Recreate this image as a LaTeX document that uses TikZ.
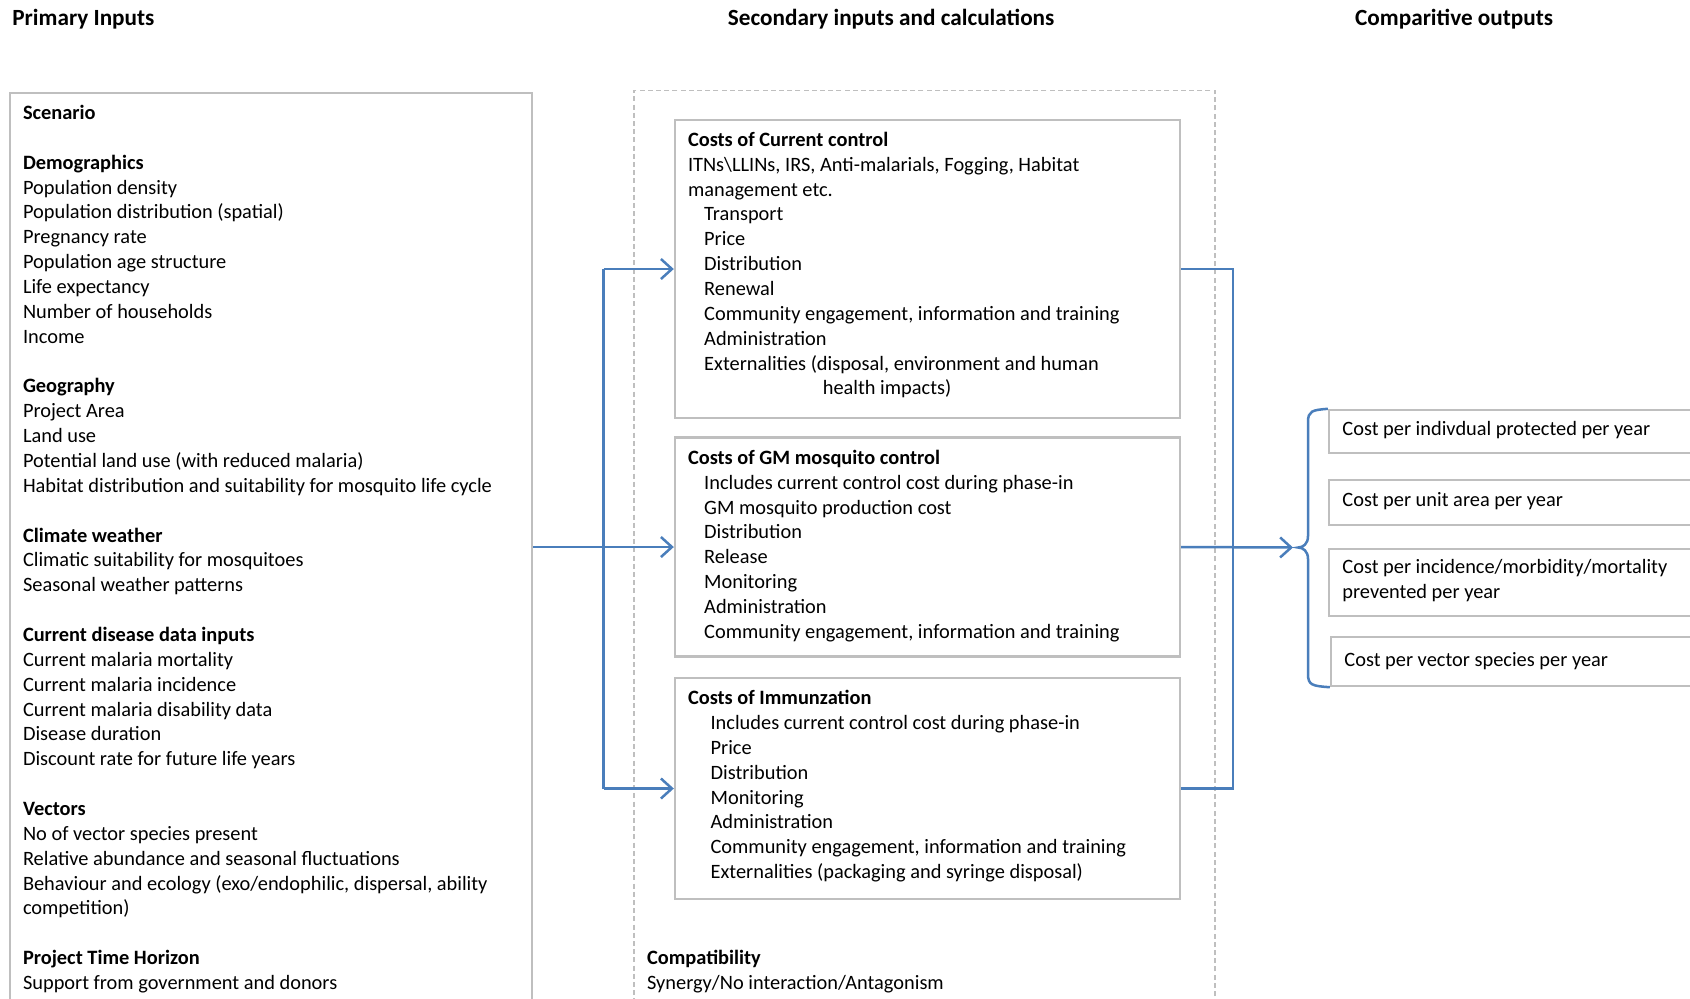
\documentclass[tikz,border=0pt]{standalone}
\usepackage{fontspec}
\setmainfont{Carlito}
\usetikzlibrary{arrows.meta,fit}
\definecolor{boxgray}{HTML}{BFBFBF}
\definecolor{linkblue}{HTML}{4A7EBB}
\newcommand{\bodyfont}{\fontsize{10.19pt}{12.43pt}\selectfont}
\newcommand{\headfont}{\fontsize{11.6pt}{14pt}\selectfont\bfseries}
\newcommand{\ind}[1]{\hspace*{#1}}
\begin{document}
\begin{tikzpicture}[x=0.5pt,y=-0.5pt,
  frame/.style={draw=boxgray, line width=1.2pt, inner sep=0pt},
  dashframe/.style={draw=boxgray, line width=0.8pt, dash pattern=on 2.5pt off 1.6pt},
  txt/.style={anchor=north west, inner sep=0pt, align=left, font=\bodyfont},
  head/.style={anchor=base west, inner sep=0pt, font=\headfont},
  link/.style={draw=linkblue, line width=1.25pt},
  conn/.style={link, -{Straight Barb[length=5.5pt,width=10pt,line width=1.25pt]}}]
\useasboundingbox (0,0) rectangle (1690,998);
\clip (0,0) rectangle (1690,998);
\fill[white] (0,0) rectangle (1690,998);

% headings
\node[head] (h1) at (12,25.5) {Primary Inputs};
\node[head] (h2) at (727.5,25.5) {Secondary inputs and calculations};
\node[head] (h3) at (1354.8,25.5) {Comparitive outputs};

% frames
\node[frame, fit={(10,93) (532,1030)}] (inputs) {};
\node[dashframe, fit={(634,90.5) (1215,1030)}, inner sep=0pt] (calc) {};
\node[frame, fit={(675,120) (1180,418)}] (cur) {};
\node[frame, fit={(675,437.6) (1180,656.4)}] (gm) {};
\node[frame, fit={(675,678) (1180,899)}] (imm) {};

\node[frame, fit={(1329,410) (1720,453)}] (o1) {};
\node[frame, fit={(1329,480) (1720,525)}] (o2) {};
\node[frame, fit={(1329,549) (1720,616)}] (o3) {};
\node[frame, fit={(1331,637) (1720,686)}] (o4) {};

% left text
\node[txt] (lefttext) at (22.6,101.6) {\strut\textbf{Scenario}\\[12.43pt]
\textbf{Demographics}\\
Population density\\
Population distribution (spatial)\\
Pregnancy rate\\
Population age structure\\
Life expectancy\\
Number of households\\
Income\\[12.43pt]
\textbf{Geography}\\
Project Area\\
Land use\\
Potential land use (with reduced malaria)\\
Habitat distribution and suitability for mosquito life cycle\\[12.43pt]
\textbf{Climate weather}\\
Climatic suitability for mosquitoes\\
Seasonal weather patterns\\[12.43pt]
\textbf{Current disease data inputs}\\
Current malaria mortality\\
Current malaria incidence\\
Current malaria disability data\\
Disease duration\\
Discount rate for future life years\\[12.43pt]
\textbf{Vectors}\\
No of vector species present\\
Relative abundance and seasonal fluctuations\\
Behaviour and ecology (exo/endophilic, dispersal, ability\\
competition)\\[12.43pt]
\textbf{Project Time Horizon}\\
Support from government and donors};

% middle texts
\node[txt] (curtext) at (687.6,128.5) {\strut\textbf{Costs of Current control}\\
ITNs\textbackslash LLINs, IRS, Anti-malarials, Fogging, Habitat\\
management etc.\\
\ind{8.1pt}Transport\\
\ind{8.1pt}Price\\
\ind{8.1pt}Distribution\\
\ind{8.1pt}Renewal\\
\ind{8.1pt}Community engagement, information and training\\
\ind{8.1pt}Administration\\
\ind{8.1pt}Externalities (disposal, environment and human\\
\ind{67.4pt}health impacts)};

\node[txt] (gmtext) at (687.6,446.5) {\strut\textbf{Costs of GM mosquito control}\\
\ind{8.1pt}Includes current control cost during phase-in\\
\ind{8.1pt}GM mosquito production cost\\
\ind{8.1pt}Distribution\\
\ind{8.1pt}Release\\
\ind{8.1pt}Monitoring\\
\ind{8.1pt}Administration\\
\ind{8.1pt}Community engagement, information and training};

\node[txt] (immtext) at (687.6,686.8) {\strut\textbf{Costs of Immunzation}\\
\ind{11.3pt}Includes current control cost during phase-in\\
\ind{11.3pt}Price\\
\ind{11.3pt}Distribution\\
\ind{11.3pt}Monitoring\\
\ind{11.3pt}Administration\\
\ind{11.3pt}Community engagement, information and training\\
\ind{11.3pt}Externalities (packaging and syringe disposal)};

\node[txt] (comptext) at (646.7,946.6) {\strut\textbf{Compatibility}\\
Synergy/No interaction/Antagonism};

% output texts
\node[txt] (t1) at (1342,417.5) {\strut Cost per indivdual protected per year};
\node[txt] (t2) at (1342,488.5) {\strut Cost per unit area per year};
\node[txt] (t3) at (1342,555.5) {\strut Cost per incidence/morbidity/mortality\\prevented per year};
\node[txt] (t4) at (1344,649) {\strut Cost per vector species per year};

% connectors
\coordinate (jl) at (603.6,547.5);
\coordinate (jr) at (1233,547.5);
\coordinate (tip) at (1293,547.5);
\draw[conn] (inputs.east |- gm.west) -- (gm.west);
\draw[link] (cur.west -| jl) -- (imm.west -| jl);
\draw[conn] (cur.west -| jl) -- (cur.west);
\draw[conn] (imm.west -| jl) -- (imm.west);
\draw[link] (cur.east) -- (cur.east -| jr) -- (imm.east -| jr) -- (imm.east);
\draw[conn] (gm.east) -- (tip);

% brace
\draw[link] (o1.north west) .. controls (1312,410) and (1308,411) .. (1308,422)
  -- (1308,536) .. controls (1308,544) and (1303,547.5) .. (1298,547.5)
  .. controls (1303,547.5) and (1308,551) .. (1308,559)
  -- (1308,674) .. controls (1308,685) and (1312,686) .. (o4.south west);
\end{tikzpicture}
\end{document}
